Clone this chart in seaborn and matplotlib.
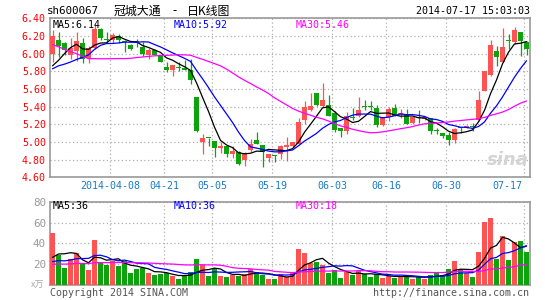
import numpy as np
import pandas as pd
import matplotlib
matplotlib.use("Agg")
import matplotlib.pyplot as plt
import seaborn as sns

# ---------------- data ----------------
open_ = [6.00, 6.15, 6.12, 5.99, 6.03, 6.12, 5.95, 6.06, 6.28, 6.17,
         6.15, 6.20, 6.14, 6.10, 6.14, 6.08, 5.99, 6.04, 5.97, 5.85,
         5.81, 5.85, 5.84, 5.82, 5.51, 5.00, 5.05, 5.01, 4.93, 4.95,
         4.86, 4.89, 4.80, 4.91, 5.02, 4.96, 4.82, 4.85, 4.86, 4.94,
         4.95, 4.98, 5.25, 5.36, 5.55, 5.41, 5.42, 5.33, 5.16, 5.12,
         5.28, 5.29, 5.41, 5.41, 5.38, 5.19, 5.28, 5.38, 5.31, 5.32,
         5.21, 5.28, 5.26, 5.27, 5.13, 5.10, 5.08, 5.02, 5.17, 5.17,
         5.18, 5.25, 5.58, 5.76, 6.03, 5.91, 6.15, 6.13, 6.24, 6.135]
high = [6.27, 6.24, 6.13, 6.18, 6.24, 6.18, 6.09, 6.34, 6.29, 6.24,
        6.23, 6.22, 6.16, 6.11, 6.17, 6.13, 6.06, 6.05, 5.97, 5.90,
        5.87, 5.90, 5.93, 5.94, 5.51, 5.09, 5.05, 5.01, 5.00, 4.95,
        4.96, 4.90, 4.89, 5.03, 5.11, 4.96, 4.86, 4.85, 4.97, 5.06,
        5.00, 5.27, 5.46, 5.55, 5.55, 5.67, 5.53, 5.35, 5.16, 5.34,
        5.38, 5.51, 5.47, 5.46, 5.42, 5.28, 5.40, 5.43, 5.37, 5.37,
        5.29, 5.36, 5.29, 5.27, 5.16, 5.10, 5.11, 5.16, 5.17, 5.19,
        5.21, 5.58, 5.80, 6.16, 6.09, 6.29, 6.22, 6.30, 6.24, 6.14]
low = [5.90, 5.96, 5.98, 5.94, 5.92, 5.89, 5.89, 6.05, 6.15, 6.13,
       6.12, 6.12, 6.02, 6.04, 6.07, 5.97, 5.94, 5.98, 5.90, 5.79,
       5.75, 5.80, 5.81, 5.66, 5.11, 4.86, 4.95, 4.83, 4.88, 4.83,
       4.82, 4.74, 4.73, 4.89, 4.98, 4.72, 4.77, 4.77, 4.81, 4.79,
       4.94, 4.98, 5.20, 5.35, 5.41, 5.40, 5.29, 5.11, 5.06, 5.09,
       5.25, 5.28, 5.36, 5.36, 5.17, 5.18, 5.24, 5.29, 5.27, 5.20,
       5.20, 5.22, 5.25, 5.09, 5.09, 5.05, 4.97, 4.99, 5.10, 5.16,
       5.12, 5.24, 5.58, 5.75, 5.86, 5.90, 6.05, 6.11, 5.97, 5.99]
close = [6.20, 6.09, 6.04, 6.06, 6.14, 5.94, 6.06, 6.28, 6.18, 6.15,
         6.21, 6.15, 6.13, 6.05, 6.13, 6.00, 6.04, 5.99, 5.91, 5.82,
         5.87, 5.84, 5.82, 5.70, 5.12, 5.05, 5.04, 4.93, 4.95, 4.86,
         4.90, 4.75, 4.87, 4.98, 4.98, 4.89, 4.86, 4.84, 4.96, 4.96,
         5.00, 5.23, 5.40, 5.41, 5.42, 5.47, 5.29, 5.13, 5.12, 5.29,
         5.27, 5.36, 5.40, 5.40, 5.19, 5.28, 5.37, 5.29, 5.33, 5.20,
         5.28, 5.27, 5.28, 5.12, 5.12, 5.07, 5.02, 5.15, 5.16, 5.18,
         5.17, 5.48, 5.80, 6.10, 5.96, 6.08, 6.14, 6.27, 6.14, 6.05]
volume = [50.2, 28.8, 16.6, 25.0, 31.0, 19.8, 14.4, 43.2, 22.4, 19.2,
          23.0, 18.2, 23.0, 11.8, 15.0, 16.0, 11.8, 9.6, 10.6, 11.2,
          8.6, 5.8, 9.0, 12.5, 25.0, 18.9, 8.6, 16.0, 8.6, 8.0,
          9.6, 9.0, 10.6, 15.4, 12.8, 9.6, 5.8, 5.4, 10.2, 7.4,
          12.8, 34.6, 31.0, 20.8, 22.4, 19.2, 11.8, 14.4, 7.0, 12.8,
          9.6, 13.4, 10.2, 8.0, 10.2, 7.0, 9.0, 7.0, 8.0, 9.6,
          6.1, 8.0, 5.4, 9.6, 12.5, 9.6, 15.4, 23.4, 15.0, 11.8,
          8.0, 32.0, 60.8, 64.6, 24.6, 47.0, 24.0, 41.6, 42.2, 32.0]
# sessions before the window (estimated from where the MA lines start)
prior_close = [6.90, 6.85, 6.88, 6.82, 6.85, 6.83, 6.30, 6.22, 6.15, 6.18,
               6.10, 6.15, 5.95, 5.88, 5.80, 5.85, 5.78, 5.82, 5.75, 5.77,
               5.75, 5.85, 5.82, 5.85, 5.70, 5.78, 5.66, 5.72, 5.95]
prior_volume = [17, 22, 19, 15, 24, 18, 16, 21, 20, 17,
                19, 23, 16, 18, 20, 15, 19, 21, 17, 14,
                18, 20, 16, 19, 18.5, 12.3, 15.6, 20.0, 34.4]

date_tick_idx = [10, 19, 27, 37, 47, 56, 66, 79]
date_tick_labels = ["2014-04-08", "04-21", "05-05", "05-19", "06-03", "06-16", "06-30", "07-17"]
price_ticks = [4.60, 4.80, 5.00, 5.20, 5.40, 5.60, 5.80, 6.00, 6.20, 6.40]
vol_ticks = [20, 40, 60, 80]

title_code = "sh600067"
title_name = "冠城大通"
title_sep = "-"
title_kind = "日K线图"
timestamp = "2014-07-17 15:03:03"
ma_price_labels = ["MA5:6.14", "MA10:5.92", "MA30:5.46"]
ma_vol_labels = ["MA5:36", "MA10:36", "MA30:18"]

# ---------------- derived ----------------
n = len(close)
k = np.arange(n)
o = np.array(open_); c = np.array(close); h = np.array(high); l = np.array(low)
v = np.array(volume)
cs = pd.Series(prior_close + close)
vs = pd.Series(prior_volume + volume)
ma = {w: cs.rolling(w).mean().to_numpy()[-n:] for w in (5, 10, 30)}
vma = {w: vs.rolling(w).mean().to_numpy()[-n:] for w in (5, 10, 30)}

RED = "#ff5353"
GREEN = "#0ca30c"
up = c >= o
cols = np.where(up, RED, GREEN)
df = pd.DataFrame({"k": k, "vol": v, "dir": np.where(up, "up", "down")})

# ---------------- figure ----------------
sns.set_theme(style="white")
plt.rcParams['font.family'] = ['DejaVu Sans Mono', 'Noto Sans CJK SC']

W, H = 545, 300
fig = plt.figure(figsize=(W / 100, H / 100), dpi=100)
fig.patch.set_facecolor("white")

def fx(px):
    return px / W

def fy(py):
    return 1 - py / H

ax = fig.add_axes([fx(50), fy(177.3), 480 / W, 159 / H])
axv = fig.add_axes([fx(50), fy(285), 480 / W, 83.3 / H])

xmin, xmax = -0.4167, 79.583
grid_x = [i - 0.42 for i in date_tick_idx]
GRID = "#b0b0b0"
BORDER = "#999999"

# candles
ax.vlines(k, l, h, colors=cols, lw=0.9, zorder=3)
body_b = np.minimum(o, c)
body_h = np.maximum(np.abs(c - o), 0.012)
ax.bar(k, body_h, bottom=body_b, width=0.83, color=cols, linewidth=0, zorder=4)

sns.lineplot(x=k, y=ma[5], ax=ax, color="black", lw=0.9, zorder=5)
sns.lineplot(x=k, y=ma[10], ax=ax, color="#0000ff", lw=0.9, zorder=5)
sns.lineplot(x=k, y=ma[30], ax=ax, color="#ff00ff", lw=0.9, zorder=5)

ax.set_xlim(xmin, xmax)
ax.set_ylim(4.60, 6.40)
ax.set_yticks(price_ticks)
ax.set_yticklabels([f"{t:.2f}" for t in price_ticks], color="#ff0000", fontsize=7.2)
ax.set_xticks(grid_x)
ax.set_xticklabels([])
ax.tick_params(length=0, pad=3)
ax.set_xlabel(""); ax.set_ylabel("")

# volume
sns.barplot(data=df, x="k", y="vol", hue="dir", palette={"up": RED, "down": GREEN},
            native_scale=True, width=0.83, dodge=False, legend=False, saturation=1,
            errorbar=None, linewidth=0, ax=axv, zorder=3)
sns.lineplot(x=k, y=vma[5], ax=axv, color="black", lw=0.9, zorder=5)
sns.lineplot(x=k, y=vma[10], ax=axv, color="#0000ff", lw=0.9, zorder=5)
sns.lineplot(x=k, y=vma[30], ax=axv, color="#ff00ff", lw=0.9, zorder=5)
axv.set_xlim(xmin, xmax)
axv.set_ylim(0, 80)
axv.set_yticks(vol_ticks)
axv.set_yticklabels([str(t) for t in vol_ticks], color="#999999", fontsize=7.8)
axv.set_xticks(grid_x)
axv.set_xticklabels([])
axv.tick_params(length=0, pad=3)
axv.set_xlabel(""); axv.set_ylabel("")

for a in (ax, axv):
    a.set_facecolor("white")
    a.grid(True, which="major", linestyle=(0, (1, 2)), color=GRID, lw=0.9, zorder=0)
    a.set_axisbelow(True)
    for s in a.spines.values():
        s.set_color(BORDER)
        s.set_linewidth(1.2)
        s.set_visible(True)

# date labels between panels
tr = ax.get_xaxis_transform()
for idx, lab in zip(date_tick_idx, date_tick_labels):
    if idx == date_tick_idx[-1]:
        ax.text(78.35, -0.055, lab, transform=tr, ha="right", va="center",
                color="#1a7cc8", fontsize=7.2)
    else:
        ax.text(idx - 0.42, -0.055, lab, transform=tr, ha="center", va="center",
                color="#1a7cc8", fontsize=7.2)

# titles and labels
cjk = ['Noto Sans CJK SC', 'DejaVu Sans']
fig.text(fx(47), fy(11), title_code, ha="left", va="center", fontsize=7.8, color="black")
fig.text(fx(114), fy(11), title_name, ha="left", va="center", fontsize=8.6, color="black",
         family=cjk)
fig.text(fx(175), fy(11), title_sep, ha="center", va="center", fontsize=8.6, color="black",
         family=cjk)
fig.text(fx(187), fy(11), title_kind, ha="left", va="center", fontsize=8.6, color="black",
         family=cjk)
fig.text(fx(530), fy(11), timestamp, ha="right", va="center", fontsize=7.2, color="black")

lab_x = [53, 174, 296]
lab_c = ["black", "#0000ff", "#ff00ff"]
for t, xx, cc in zip(ma_price_labels, lab_x, lab_c):
    fig.text(fx(xx), fy(24.5), t, ha="left", va="center", fontsize=7.2, color=cc)
for t, xx, cc in zip(ma_vol_labels, lab_x, lab_c):
    fig.text(fx(xx), fy(206), t, ha="left", va="center", fontsize=7.2, color=cc)

fig.text(fx(44), fy(285), "x万", ha="right", va="center", fontsize=6.5, color="#aaaaaa",
         family=cjk)
fig.text(fx(50), fy(293), "Copyright 2014 SINA.COM", ha="left", va="center",
         fontsize=7.2, color="#555555")
fig.text(fx(529), fy(293), "http://finance.sina.com.cn", ha="right", va="center",
         fontsize=7.2, color="#555555")
fig.text(fx(508), fy(160), "sina", ha="center", va="center", fontsize=13,
         color="#d4d4d4", style="italic", weight="bold", family="DejaVu Sans")

fig.savefig("out.png", dpi=100, facecolor="white")
